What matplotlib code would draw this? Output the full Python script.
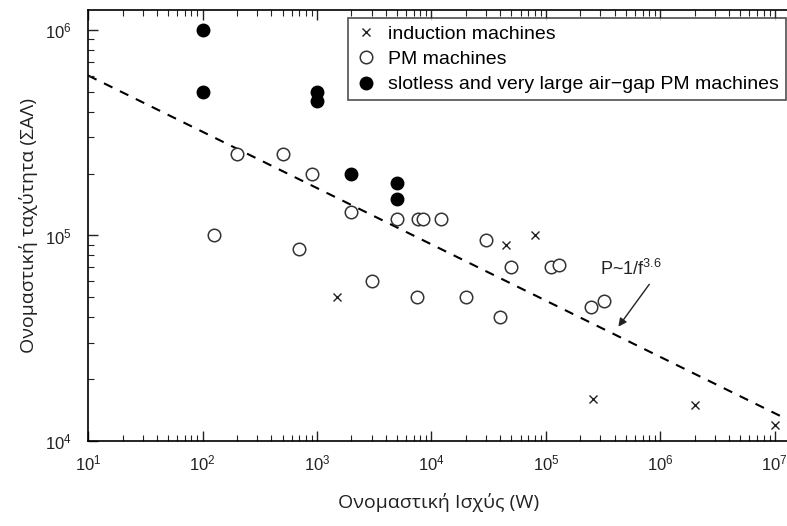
import matplotlib
matplotlib.use("Agg")
import matplotlib.pyplot as plt
from matplotlib.ticker import LogLocator, NullFormatter, FixedLocator

plt.rcParams["font.family"] = ["Liberation Sans", "DejaVu Sans"]
plt.rcParams["mathtext.fontset"] = "custom"
plt.rcParams["mathtext.rm"] = "Liberation Sans"
plt.rcParams["mathtext.it"] = "Liberation Sans:italic"

# induction machines (x marks)
im_power = [1.5e3, 4.5e4, 8e4, 2.6e5, 2e6, 1e7]
im_speed = [5e4, 9e4, 1e5, 1.6e4, 1.5e4, 1.2e4]

# PM machines (open circles)
pm_power = [1.25e2, 2e2, 5e2, 7e2, 9e2, 2e3, 3e3, 5e3, 7.5e3, 7.7e3, 8.5e3, 1.2e4,
            2e4, 3e4, 4e4, 5e4, 1.1e5, 1.3e5, 2.5e5, 3.2e5]
pm_speed = [1e5, 2.5e5, 2.5e5, 8.6e4, 2e5, 1.3e5, 6e4, 1.2e5, 5e4, 1.2e5, 1.2e5, 1.2e5,
            5e4, 9.5e4, 4e4, 7e4, 7e4, 7.2e4, 4.5e4, 4.8e4]

# slotless / very large air-gap PM machines (filled circles)
sl_power = [1e2, 1e2, 1e3, 1e3, 2e3, 5e3, 5e3]
sl_speed = [1e6, 5e5, 5e5, 4.5e5, 2e5, 1.8e5, 1.5e5]

# fitted trend P ~ 1/f^3.6 (end points)
fit_power = [10, 1.3e7]
fit_speed = [6e5, 1.27e4]

x_ticks = [1e1, 1e2, 1e3, 1e4, 1e5, 1e6, 1e7]
y_ticks = [1e4, 1e5, 1e6]

fig = plt.figure(figsize=(7.87, 5.26), dpi=100)
ax = fig.add_axes([0.112, 0.1616, 0.89, 0.8194])

ax.plot(fit_power, fit_speed, "k--", lw=1.5, dashes=(4.5, 4), zorder=1)
ax.plot(im_power, im_speed, "x", color="#222222", ms=6, mew=1.0, ls="none",
        label="induction machines")
ax.plot(pm_power, pm_speed, "o", mfc="white", mec="#333333", ms=9, mew=1.1, ls="none",
        label="PM machines")
ax.plot(sl_power, sl_speed, "o", color="black", ms=9, ls="none",
        label="slotless and very large air\u2212gap PM machines")

ax.set_xscale("log")
ax.set_yscale("log")
ax.set_xlim(10, 1.32e7)
ax.set_ylim(1e4, 1.25e6)

ax.xaxis.set_major_locator(FixedLocator(x_ticks))
ax.yaxis.set_major_locator(FixedLocator(y_ticks))
ax.xaxis.set_minor_locator(LogLocator(base=10, subs=range(2, 10), numticks=20))
ax.yaxis.set_minor_locator(LogLocator(base=10, subs=range(2, 10), numticks=20))
ax.xaxis.set_minor_formatter(NullFormatter())
ax.yaxis.set_minor_formatter(NullFormatter())

ax.tick_params(which="both", direction="in", top=True, right=False, labelsize=12,
               colors="#222222")
ax.tick_params(which="major", length=7, width=1)
ax.tick_params(which="minor", length=4, width=0.8)
ax.tick_params(axis="x", pad=9)
ax.tick_params(axis="y", pad=12)
for s in ax.spines.values():
    s.set_linewidth(1.2)
ax.spines["right"].set_visible(False)

ax.annotate("P~1/f$^{3.6}$", xy=(4.3e5, 3.6e4), xytext=(3e5, 6.4e4),
            fontsize=13, color="#222222",
            arrowprops=dict(arrowstyle="-|>", color="#222222", lw=1, mutation_scale=12,
                            shrinkA=2, shrinkB=0, relpos=(0.85, 0.0)))

ax.set_xlabel("Ονομαστική Ισχύς (W)", fontsize=14, family=["Open Sans", "DejaVu Sans"],
              color="#222222", labelpad=14)
ax.set_ylabel("Ονομαστική ταχύτητα (ΣΑΛ)", fontsize=14, family=["Open Sans", "DejaVu Sans"],
              color="#222222", labelpad=5)

leg = ax.legend(loc="upper right", bbox_to_anchor=(0.9957, 0.981), fontsize=14,
                frameon=True, fancybox=False, edgecolor="#222222", handletextpad=0.5,
                handlelength=1.2, borderpad=0.35, labelspacing=0.4, borderaxespad=0)
leg.get_frame().set_linewidth(1.2)

fig.savefig("out.png", dpi=100)
